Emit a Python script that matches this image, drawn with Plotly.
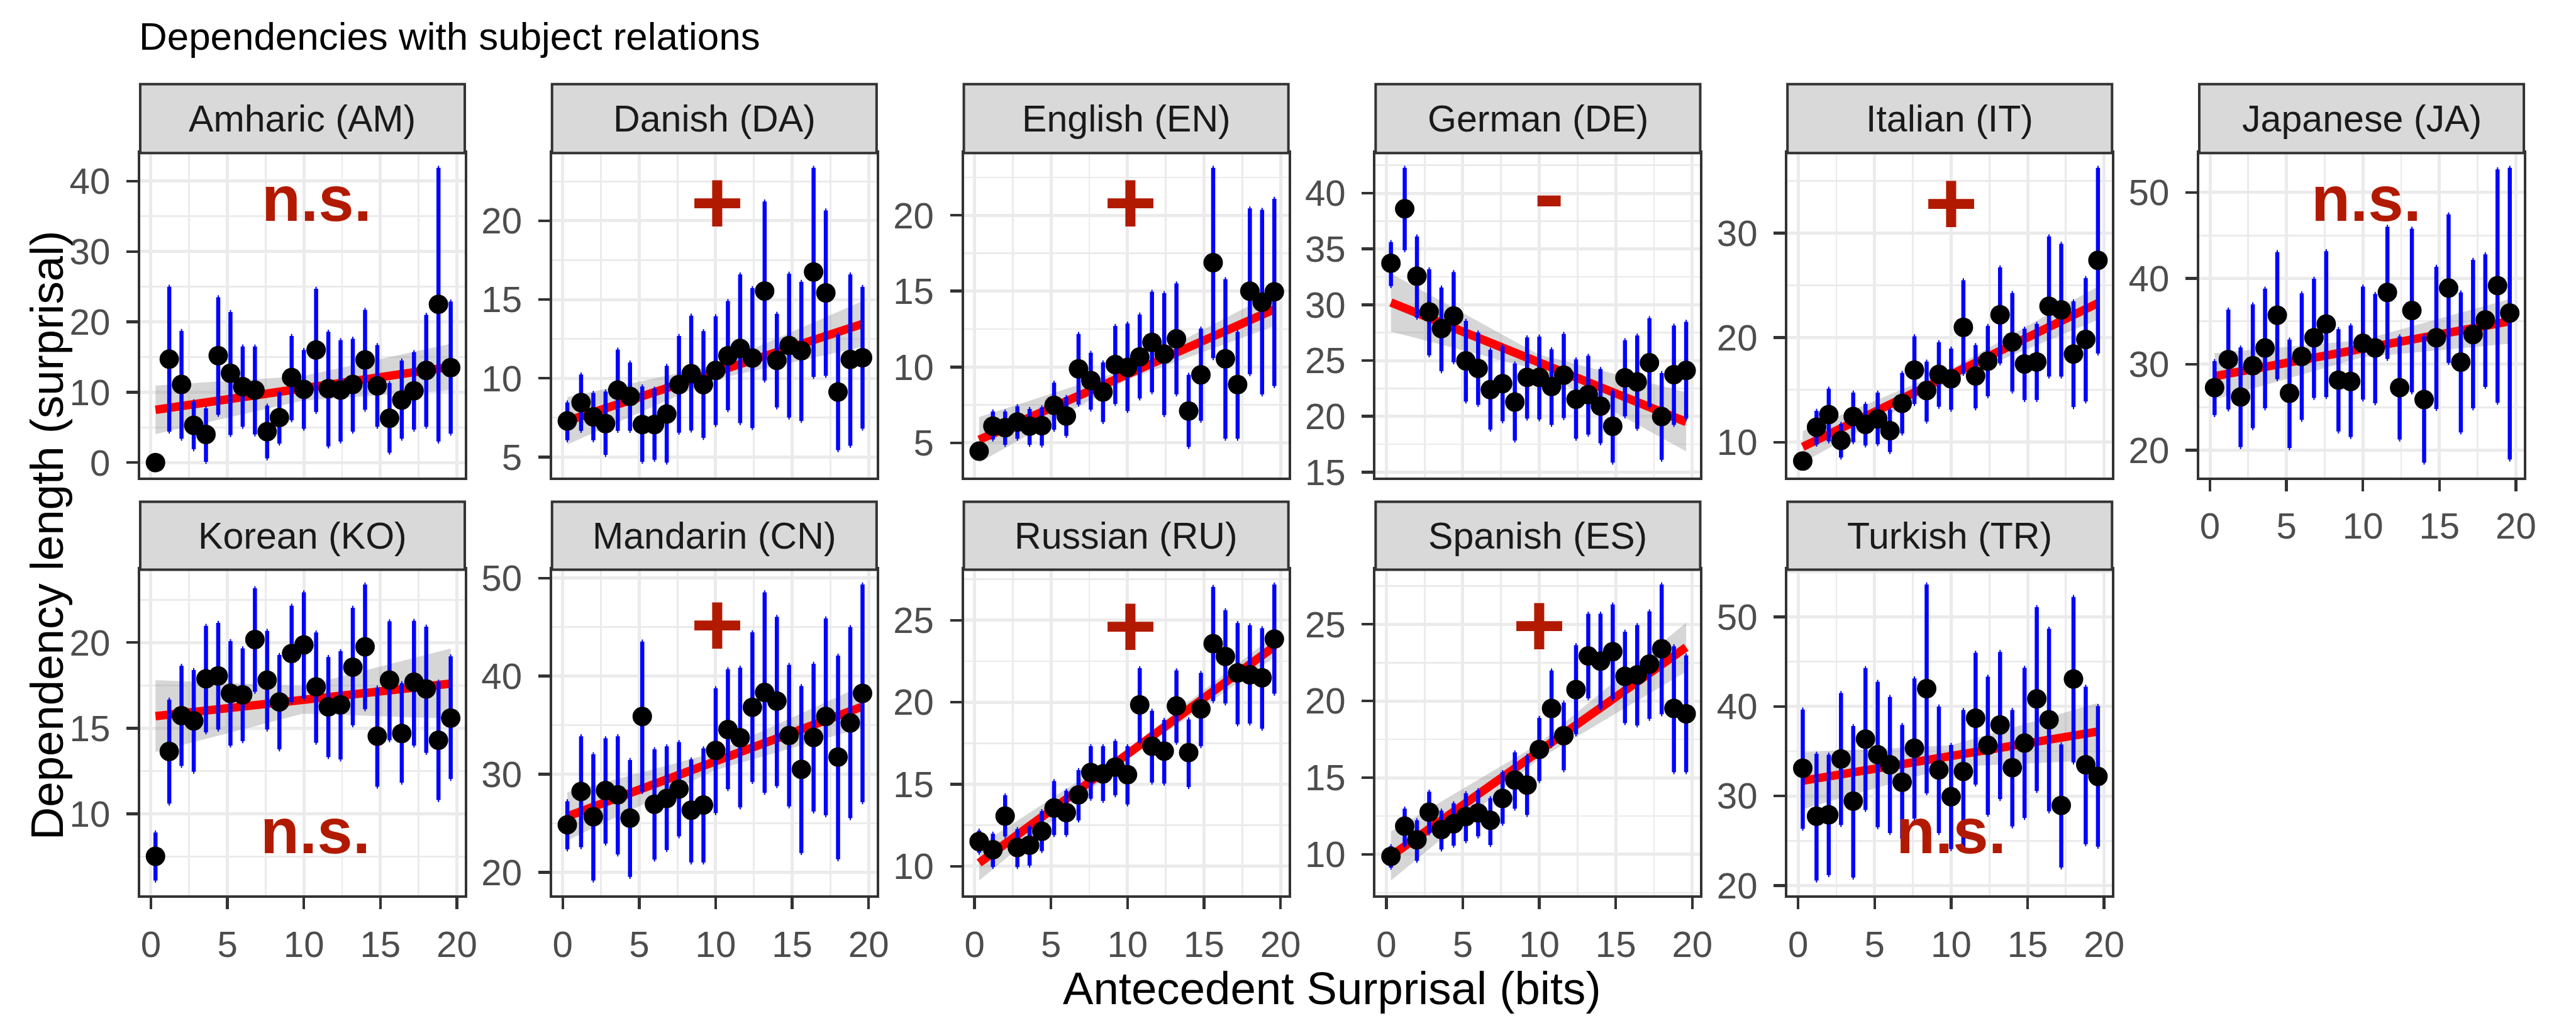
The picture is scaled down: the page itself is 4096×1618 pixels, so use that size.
import plotly.graph_objects as go

# ---------------- data ----------------
panel_names = ["Amharic (AM)", "Danish (DA)", "English (EN)", "German (DE)", "Italian (IT)",
               "Japanese (JA)", "Korean (KO)", "Mandarin (CN)", "Russian (RU)", "Spanish (ES)",
               "Turkish (TR)"]

surprisal = [0.3, 1.2, 2.0, 2.8, 3.6, 4.4, 5.2, 6.0, 6.8, 7.6, 8.4, 9.2, 10.0,
             10.8, 11.6, 12.4, 13.2, 14.0, 14.8, 15.6, 16.4, 17.2, 18.0, 18.8, 19.6]

x_ticks = [0, 5, 10, 15, 20]

am_len = [0.0, 14.7, 11.1, 5.3, 4.0, 15.2, 12.7, 10.8, 10.3, 4.4, 6.4, 12.1, 10.4, 16.0, 10.5, 10.3, 11.1, 14.6, 10.9, 6.3, 8.9, 10.2, 13.1, 22.5, 13.5]
am_hi = [0.0, 25.0, 18.7, 8.7, 7.7, 23.5, 21.4, 16.5, 16.5, 8.1, 10.0, 18.0, 16.0, 24.7, 18.6, 17.4, 17.6, 21.7, 16.7, 11.3, 14.5, 15.7, 21.0, 41.9, 22.9]
am_lo = [0.0, 4.4, 3.4, 1.9, 0.1, 6.8, 3.9, 5.1, 4.0, 0.6, 2.7, 6.0, 4.8, 7.2, 2.3, 3.0, 4.4, 7.5, 5.1, 1.4, 3.4, 4.7, 5.1, 3.0, 4.1]

da_len = [7.29, 8.46, 7.55, 7.12, 9.25, 8.85, 7.06, 7.06, 7.73, 9.6, 10.3, 9.6, 10.5, 11.43, 11.9, 11.29, 15.54, 11.14, 12.08, 11.75, 16.75, 15.42, 9.13, 11.2, 11.31]
da_hi = [8.46, 10.24, 9.07, 9.16, 11.82, 11.0, 9.48, 9.34, 10.79, 12.69, 13.97, 13.0, 13.93, 14.9, 16.59, 15.72, 21.22, 14.09, 16.64, 16.12, 23.36, 20.65, 12.78, 16.59, 15.8]
da_lo = [6.07, 6.66, 6.07, 5.14, 6.66, 6.66, 4.70, 4.83, 4.65, 6.54, 6.68, 6.22, 7.03, 7.97, 7.15, 6.84, 9.86, 8.15, 7.5, 7.29, 10.09, 10.16, 5.44, 5.72, 6.8]

en_len = [4.45, 6.1, 6.0, 6.37, 6.1, 6.13, 7.47, 6.77, 9.88, 9.11, 8.35, 10.16, 9.97, 10.67, 11.62, 10.85, 11.86, 7.1, 9.48, 16.88, 10.54, 8.84, 15.0, 14.27, 14.96]
en_hi = [4.45, 7.07, 7.07, 7.41, 7.23, 7.34, 8.97, 8.02, 12.18, 10.94, 10.3, 12.71, 12.86, 13.45, 14.96, 14.87, 15.51, 9.48, 12.53, 23.13, 15.79, 12.31, 20.45, 20.36, 21.09]
en_lo = [4.45, 5.22, 4.87, 5.27, 4.87, 4.82, 5.86, 5.46, 7.52, 7.19, 6.37, 7.56, 7.1, 7.93, 8.33, 6.83, 8.2, 4.73, 6.46, 10.58, 5.27, 5.27, 9.52, 8.2, 8.75]

de_len = [33.72, 38.6, 32.56, 29.36, 27.86, 28.99, 24.98, 24.29, 22.39, 22.93, 21.28, 23.5, 23.5, 22.68, 23.69, 21.53, 21.95, 20.91, 19.11, 23.45, 23.08, 24.8, 19.98, 23.74, 24.11]
de_hi = [35.62, 42.27, 36.13, 33.18, 31.55, 32.93, 28.55, 27.51, 25.96, 26.26, 24.73, 27.07, 27.14, 26.01, 27.39, 25.1, 25.42, 24.24, 22.27, 26.82, 27.24, 28.79, 23.87, 28.13, 28.47]
de_lo = [31.67, 34.88, 28.84, 25.47, 24.04, 24.85, 21.33, 21.03, 18.82, 19.56, 17.83, 19.8, 19.73, 19.24, 19.85, 18.0, 18.37, 17.59, 15.86, 20.0, 18.89, 20.84, 16.11, 19.24, 19.8]

it_len = [8.2, 11.43, 12.64, 10.16, 12.45, 11.7, 12.23, 11.1, 13.71, 16.89, 14.93, 16.49, 16.06, 20.98, 16.33, 17.75, 22.19, 19.58, 17.48, 17.67, 23.0, 22.65, 18.43, 19.83, 27.39]
it_hi = [8.2, 12.99, 15.11, 11.75, 14.74, 13.66, 14.74, 13.12, 16.62, 20.12, 17.7, 19.56, 18.96, 25.48, 19.29, 21.12, 26.72, 24.27, 20.85, 21.31, 29.68, 28.98, 23.46, 25.69, 36.24]
it_lo = [8.2, 9.76, 10.08, 8.52, 10.0, 9.68, 9.81, 9.06, 10.83, 13.66, 11.97, 13.39, 13.1, 16.54, 13.23, 14.39, 17.54, 14.85, 14.04, 14.04, 16.27, 16.27, 13.36, 13.9, 18.48]

ja_len = [27.27, 30.55, 26.18, 29.82, 31.89, 35.71, 26.62, 30.91, 33.09, 34.69, 28.15, 28.0, 32.44, 31.89, 38.36, 27.27, 36.25, 25.89, 33.09, 38.87, 30.25, 33.45, 35.16, 39.16, 35.96]
ja_hi = [30.36, 36.36, 31.96, 36.98, 38.8, 43.05, 32.87, 38.25, 39.96, 43.16, 34.07, 34.51, 39.05, 38.18, 46.0, 33.24, 45.78, 33.27, 41.35, 47.45, 38.36, 42.15, 42.8, 52.69, 52.87]
ja_lo = [24.07, 24.73, 20.36, 22.55, 24.87, 28.25, 20.25, 23.53, 26.07, 26.18, 22.18, 21.53, 25.89, 25.45, 30.62, 21.24, 26.73, 18.55, 24.8, 30.15, 22.07, 24.87, 27.35, 25.53, 18.91]

ko_len = [7.51, 13.64, 15.73, 15.42, 17.88, 18.05, 17.03, 16.95, 20.17, 17.8, 16.53, 19.36, 19.86, 17.41, 16.24, 16.36, 18.56, 19.75, 14.53, 17.8, 14.69, 17.68, 17.29, 14.29, 15.59]
ko_hi = [8.9, 16.66, 18.64, 18.39, 20.97, 21.15, 20.08, 19.66, 23.17, 20.68, 19.27, 22.15, 22.93, 20.59, 19.15, 19.49, 22.03, 23.39, 17.37, 21.24, 17.63, 21.27, 20.93, 17.71, 19.19]
ko_lo = [6.1, 10.59, 12.8, 12.46, 14.75, 14.92, 13.98, 14.24, 17.12, 14.92, 13.76, 16.53, 16.73, 14.15, 13.31, 13.17, 15.17, 16.1, 11.58, 14.29, 11.81, 13.98, 13.56, 10.8, 12.03]

cn_len = [24.85, 28.25, 25.68, 28.34, 27.9, 25.53, 35.89, 26.95, 27.54, 28.49, 26.33, 26.86, 32.43, 34.56, 33.73, 36.83, 38.34, 37.46, 33.96, 30.5, 33.76, 35.89, 31.75, 35.24, 38.25]
cn_hi = [27.25, 33.88, 32.04, 33.67, 33.88, 31.45, 43.52, 32.54, 32.84, 33.28, 31.51, 32.63, 38.76, 40.71, 40.86, 44.47, 48.55, 46.04, 41.15, 38.99, 41.27, 45.89, 42.1, 45.0, 49.35]
cn_lo = [22.34, 22.57, 19.17, 22.93, 21.83, 19.53, 28.2, 21.3, 22.28, 23.67, 21.01, 21.01, 26.04, 28.49, 26.63, 29.23, 28.11, 28.79, 26.72, 21.98, 26.21, 25.83, 21.33, 25.53, 27.16]

ru_len = [11.51, 11.01, 13.06, 11.14, 11.28, 12.13, 13.55, 13.27, 14.35, 15.72, 15.63, 16.04, 15.58, 19.84, 17.32, 17.02, 19.77, 16.93, 19.59, 23.57, 22.79, 21.79, 21.67, 21.49, 23.85]
ru_hi = [12.17, 11.99, 14.33, 12.26, 12.43, 13.36, 15.19, 14.6, 15.86, 17.32, 17.32, 17.64, 17.32, 22.08, 19.48, 18.92, 21.94, 18.95, 21.79, 27.03, 25.61, 24.83, 24.69, 24.51, 27.18]
ru_lo = [10.83, 9.95, 11.81, 9.95, 10.04, 10.92, 11.9, 11.9, 12.79, 14.12, 13.98, 14.33, 13.77, 17.53, 15.1, 15.04, 17.53, 14.83, 17.32, 20.07, 19.93, 18.65, 18.7, 18.38, 20.52]

es_len = [9.87, 11.84, 10.95, 12.76, 11.62, 12.0, 12.47, 12.7, 12.22, 13.65, 14.85, 14.52, 16.84, 19.51, 17.74, 20.74, 22.93, 22.6, 23.21, 21.6, 21.69, 22.4, 23.4, 19.51, 19.16]
es_hi = [10.53, 12.98, 12.22, 14.09, 12.85, 13.33, 13.99, 14.18, 13.67, 15.36, 16.65, 16.43, 18.9, 21.98, 19.89, 23.63, 25.68, 25.68, 26.29, 24.51, 24.94, 25.84, 27.59, 23.56, 22.97]
es_lo = [9.14, 10.57, 9.58, 11.37, 10.32, 10.57, 10.86, 11.18, 10.61, 12.0, 12.98, 12.57, 14.79, 17.07, 15.48, 17.83, 20.17, 19.51, 20.13, 18.56, 18.4, 18.84, 19.13, 15.36, 15.36]

tr_len = [33.1, 27.73, 27.9, 34.14, 29.42, 36.35, 34.62, 33.49, 31.54, 35.34, 42.0, 32.9, 29.91, 32.74, 38.69, 35.66, 37.94, 33.16, 35.92, 40.86, 38.52, 28.94, 43.07, 33.49, 32.19]
tr_hi = [39.66, 34.72, 34.62, 41.51, 37.81, 44.28, 42.75, 41.06, 37.94, 43.14, 53.64, 39.99, 35.7, 39.6, 46.0, 43.33, 46.1, 39.6, 44.31, 51.1, 48.7, 35.76, 52.24, 42.2, 40.05]
tr_lo = [26.34, 20.55, 21.14, 26.76, 20.88, 28.45, 26.5, 25.85, 25.2, 27.47, 30.3, 25.85, 24.06, 24.22, 31.28, 27.9, 29.65, 26.6, 27.54, 30.56, 28.29, 22.01, 33.75, 24.61, 24.32]

# linear fit: value at first and last surprisal bin; CI half-width at left, middle, right
am_fit, am_ci = [7.5, 13.6], [3.45, 1.75, 3.3]
da_fit, da_ci = [7.3, 13.45], [1.5, 0.45, 1.45]
en_fit, en_ci = [5.2, 13.8], [1.5, 0.35, 1.1]
de_fit, de_ci = [30.2, 19.5], [2.6, 0.7, 2.65]
it_fit, it_ci = [9.55, 23.3], [1.5, 0.55, 1.6]
ja_fit, ja_ci = [28.6, 35.0], [2.7, 1.0, 2.6]
ko_fit, ko_ci = [15.7, 17.6], [2.1, 0.8, 2.05]
cn_fit, cn_ci = [25.7, 36.9], [2.45, 0.9, 2.15]
ru_fit, ru_ci = [10.2, 23.4], [1.07, 0.3, 0.67]
es_fit, es_ci = [9.9, 23.5], [1.6, 0.5, 1.6]
tr_fit, tr_ci = [31.7, 37.2], [3.17, 1.2, 3.2]

# y-axis major ticks per panel
am_yticks = [0, 10, 20, 30, 40]
da_yticks = [5, 10, 15, 20]
en_yticks = [5, 10, 15, 20]
de_yticks = [15, 20, 25, 30, 35, 40]
it_yticks = [10, 20, 30]
ja_yticks = [20, 30, 40, 50]
ko_yticks = [10, 15, 20]
cn_yticks = [20, 30, 40, 50]
ru_yticks = [10, 15, 20, 25]
es_yticks = [10, 15, 20, 25]
tr_yticks = [20, 30, 40, 50]

# significance labels
sig_labels = ["n.s.", "+", "+", "-", "+", "n.s.", "n.s.", "+", "+", "+", "n.s."]
sig_x = [10.85, 10.1, 10.2, 10.65, 10.0, 10.2, 10.75, 10.1, 10.2, 10.0, 10.0]
sig_y = [36.7, 21.2, 20.9, 39.25, 32.9, 48.6, 8.65, 45.3, 24.7, 24.95, 25.4]

panels = [
    (am_len, am_lo, am_hi, am_fit, am_ci, am_yticks),
    (da_len, da_lo, da_hi, da_fit, da_ci, da_yticks),
    (en_len, en_lo, en_hi, en_fit, en_ci, en_yticks),
    (de_len, de_lo, de_hi, de_fit, de_ci, de_yticks),
    (it_len, it_lo, it_hi, it_fit, it_ci, it_yticks),
    (ja_len, ja_lo, ja_hi, ja_fit, ja_ci, ja_yticks),
    (ko_len, ko_lo, ko_hi, ko_fit, ko_ci, ko_yticks),
    (cn_len, cn_lo, cn_hi, cn_fit, cn_ci, cn_yticks),
    (ru_len, ru_lo, ru_hi, ru_fit, ru_ci, ru_yticks),
    (es_len, es_lo, es_hi, es_fit, es_ci, es_yticks),
    (tr_len, tr_lo, tr_hi, tr_fit, tr_ci, tr_yticks),
]

# ---------------- layout geometry ----------------
W, H = 4096, 1618
S = W / 4399.0
FONT = "Liberation Sans, Arial, Helvetica, sans-serif"

COL_LEFT0, COL_PITCH, PANEL_W = 240.6, 706.7, 557.0        # reference px
ROWS = [(126.5, 247.5, 816.0), (859.0, 978.0, 1549.0)]     # strip top, plot top, plot bottom

TICK_FS = 62.5 * S
STRIP_FS = 63.5 * S
AXTITLE_FS = 78 * S
TITLE_FS = 66.5 * S
NS_FS = 109 * S
PM_FS = 156 * S

GRID = "#EBEBEB"
DARK = "#333333"
SIGRED = "#B21A00"

fig = go.Figure()
layout_axes = {}
annotations = []
shapes = []

for i, (ylen, ylo, yhi, fit, ci, yticks) in enumerate(panels):
    n = i + 1
    row, col = divmod(i, 6)
    strip_top, plot_top, plot_bot = ROWS[row]
    left = (COL_LEFT0 + COL_PITCH * col) * S
    right = left + PANEL_W * S
    st, pt, pb = strip_top * S, plot_top * S, plot_bot * S
    xname = "x" if n == 1 else f"x{n}"
    yname = "y" if n == 1 else f"y{n}"

    x0, x1 = surprisal[0], surprisal[-1]
    xm = (x0 + x1) / 2.0
    fm = (fit[0] + fit[1]) / 2.0
    band_x = [x0, xm, x1, x1, xm, x0, x0]
    band_y = [fit[0] + ci[0], fm + ci[1], fit[1] + ci[2],
              fit[1] - ci[2], fm - ci[1], fit[0] - ci[0], fit[0] + ci[0]]

    fig.add_trace(go.Scatter(x=band_x, y=band_y, mode="lines", fill="toself",
                             fillcolor="rgba(153,153,153,0.4)", line=dict(width=0),
                             hoverinfo="skip", showlegend=False, xaxis=xname, yaxis=yname))
    fig.add_trace(go.Scatter(x=[x0, x1], y=fit, mode="lines",
                             line=dict(color="#FF0000", width=13.5),
                             hoverinfo="skip", showlegend=False, xaxis=xname, yaxis=yname))
    fig.add_trace(go.Scatter(
        x=surprisal, y=ylen, mode="markers",
        marker=dict(color="black", size=31, line=dict(width=0)),
        error_y=dict(type="data", symmetric=False,
                     array=[h - v for h, v in zip(yhi, ylen)],
                     arrayminus=[v - l for v, l in zip(ylen, ylo)],
                     color="#0000FF", thickness=6.5, width=1),
        showlegend=False, xaxis=xname, yaxis=yname))

    # y range like ggplot (5% expansion, includes ribbon)
    vals = list(ylen) + list(ylo) + list(yhi) + band_y
    lo, hi = min(vals), max(vals)
    pad = 0.05 * (hi - lo)
    yr = [lo - pad, hi + pad]
    step = yticks[1] - yticks[0]
    yminor = [yticks[0] - step / 2] + [t + step / 2 for t in yticks]

    show_x = (row == 1) or (col == 5)
    layout_axes["xaxis" if n == 1 else f"xaxis{n}"] = dict(
        domain=[left / W, right / W], range=[-0.7, 20.52], anchor=yname,
        tickmode="array", tickvals=x_ticks, ticktext=[str(t) for t in x_ticks],
        showticklabels=show_x, ticks="outside" if show_x else "",
        ticklen=18, tickwidth=4.5, tickcolor=DARK, ticklabelstandoff=6,
        tickfont=dict(family=FONT, size=TICK_FS, color="#4D4D4D"),
        showgrid=True, gridcolor=GRID, gridwidth=5,
        minor=dict(tickmode="array", tickvals=[2.5, 7.5, 12.5, 17.5],
                   showgrid=True, gridcolor=GRID, gridwidth=2.8, ticks=""),
        zeroline=False, showline=True, mirror=True, linecolor=DARK, linewidth=4,
        fixedrange=True)
    layout_axes["yaxis" if n == 1 else f"yaxis{n}"] = dict(
        domain=[1 - pb / H, 1 - pt / H], range=yr, anchor=xname,
        tickmode="array", tickvals=yticks, ticktext=[str(t) for t in yticks],
        ticks="outside", ticklen=18, tickwidth=4.5, tickcolor=DARK, ticklabelstandoff=14,
        tickfont=dict(family=FONT, size=TICK_FS, color="#4D4D4D"),
        showgrid=True, gridcolor=GRID, gridwidth=5,
        minor=dict(tickmode="array", tickvals=yminor,
                   showgrid=True, gridcolor=GRID, gridwidth=2.8, ticks=""),
        zeroline=False, showline=True, mirror=True, linecolor=DARK, linewidth=4,
        fixedrange=True)

    # strip
    shapes.append(dict(type="rect", xref="paper", yref="paper",
                       x0=left / W, x1=right / W, y0=1 - pt / H, y1=1 - st / H,
                       fillcolor="#D9D9D9", line=dict(color=DARK, width=4), layer="above"))
    annotations.append(dict(text=panel_names[i], xref="paper", yref="paper",
                            x=(left + right) / 2 / W, y=1 - (st + pt) / 2 / H,
                            xanchor="center", yanchor="middle", showarrow=False,
                            font=dict(family=FONT, size=STRIP_FS, color="#1A1A1A")))

    # significance label
    lab = sig_labels[i]
    fs = NS_FS if lab == "n.s." else PM_FS
    ysh = 0.0 if lab == "+" else 0.09 * fs
    annotations.append(dict(text=f"<b>{lab}</b>", xref=xname, yref=yname,
                            x=sig_x[i], y=sig_y[i], xanchor="center", yanchor="middle",
                            yshift=ysh, showarrow=False,
                            font=dict(family=FONT, size=fs, color=SIGRED)))

# titles
annotations.append(dict(text="Dependencies with subject relations", xref="paper", yref="paper",
                        x=236 * S / W, y=1 - 42 * S / H, xanchor="left", yanchor="middle",
                        showarrow=False, font=dict(family=FONT, size=TITLE_FS, color="black")))
annotations.append(dict(text="Antecedent Surprisal (bits)", xref="paper", yref="paper",
                        x=(240.6 + 4331) / 2 * S / W, y=0.0, yshift=-18,
                        xanchor="center", yanchor="bottom", borderpad=0, showarrow=False,
                        font=dict(family=FONT, size=AXTITLE_FS, color="black")))
annotations.append(dict(text="Dependency length (surprisal)", xref="paper", yref="paper",
                        x=80 * S / W, y=1 - 918 * S / H, xanchor="center", yanchor="middle",
                        textangle=-90, showarrow=False,
                        font=dict(family=FONT, size=AXTITLE_FS, color="black")))

fig.update_layout(
    width=W, height=H, autosize=False,
    margin=dict(l=0, r=0, t=0, b=0, pad=0),
    paper_bgcolor="white", plot_bgcolor="white",
    showlegend=False, annotations=annotations, shapes=shapes,
    font=dict(family=FONT),
    **layout_axes)

fig.write_html("out.html", config={"displayModeBar": False, "staticPlot": True},
               post_script="document.body.style.margin='0px';document.body.style.overflow='hidden';")
